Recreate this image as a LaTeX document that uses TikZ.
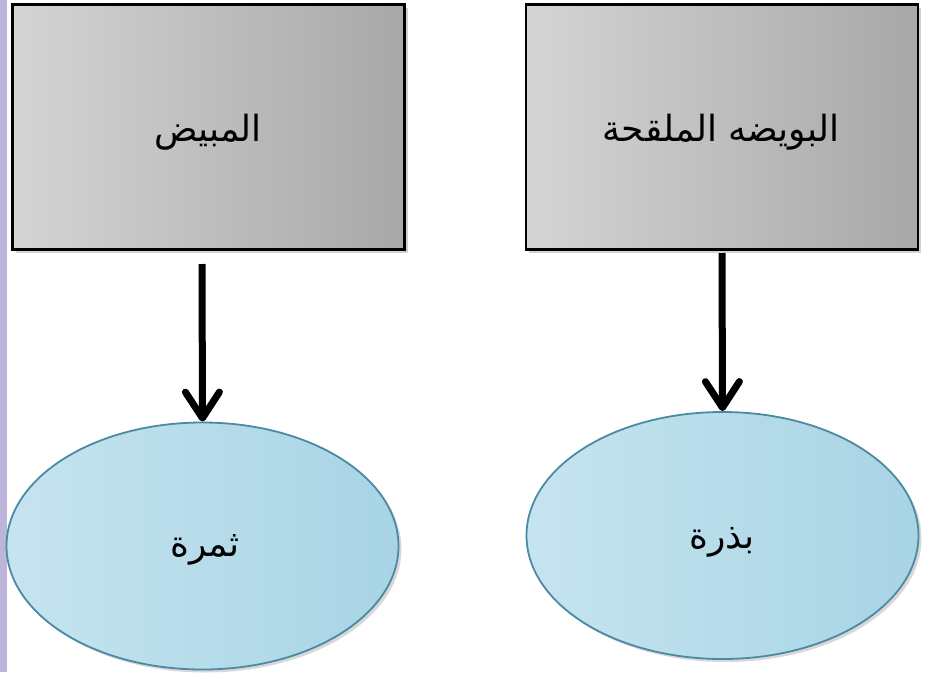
\documentclass[tikz,border=0pt]{standalone}
\usepackage{fontspec}
\newfontfamily\arabicfont[Script=Arabic]{DejaVu Sans}
\TeXXeTstate=1
\usetikzlibrary{arrows.meta,shadows,shapes.geometric}
\definecolor{boxlight}{HTML}{D4D4D4}
\definecolor{boxmid}{HTML}{C4C4C4}
\definecolor{boxdark}{HTML}{A8A8A8}
\definecolor{elllight}{HTML}{C6E4EF}
\definecolor{elldark}{HTML}{A8D4E5}
\definecolor{ellborder}{HTML}{4A8AA3}
\definecolor{stripcol}{HTML}{BDB6DA}
\tikzset{
  rectbox/.style={draw=black, line width=2.5pt, rectangle,
    left color=boxlight, middle color=boxmid, right color=boxdark,
    drop shadow={shadow xshift=3pt, shadow yshift=-3pt, opacity=0.35},
    minimum width=392pt, minimum height=245pt, inner sep=0pt},
  ellbox/.style={draw=ellborder, line width=1.8pt, ellipse,
    left color=elllight, right color=elldark,
    drop shadow={shadow xshift=3pt, shadow yshift=-3pt, opacity=0.3},
    minimum width=392pt, minimum height=247pt, inner sep=0pt},
  lbl/.style={font=\fontsize{36}{40}\selectfont\arabicfont, text=black},
  arr/.style={line width=7pt, -{Straight Barb[length=26pt,width=34pt,line width=7pt,round]}},
}
\begin{document}
\begin{tikzpicture}[x=1pt,y=-1pt]
\useasboundingbox (0,0) rectangle (944,672);
\fill[white] (0,0) rectangle (944,672);
\fill[stripcol] (0,0) rectangle (7,672);
\node[rectbox] (ovary) at (208.5,127) {};
\node[lbl] (ovarytxt) at (208,132) {\beginR المبيض\endR};
\node[rectbox] (egg) at (722,127) {};
\node[lbl] (eggtxt) at (721,132) {\beginR البويضه الملقحة\endR};
\node[ellbox] (fruit) at (202.5,546) {};
\node[lbl] (fruittxt) at (205,550) {\beginR ثمرة\endR};
\node[ellbox] (seed) at (722.5,535.5) {};
\node[lbl] (seedtxt) at (722,542) {\beginR بذرة\endR};
\coordinate (a1) at (202,264);
\draw[arr] (a1) -- (fruit.north);
\coordinate (a2) at (722,253);
\draw[arr] (a2) -- (seed.north);
\end{tikzpicture}
\end{document}
